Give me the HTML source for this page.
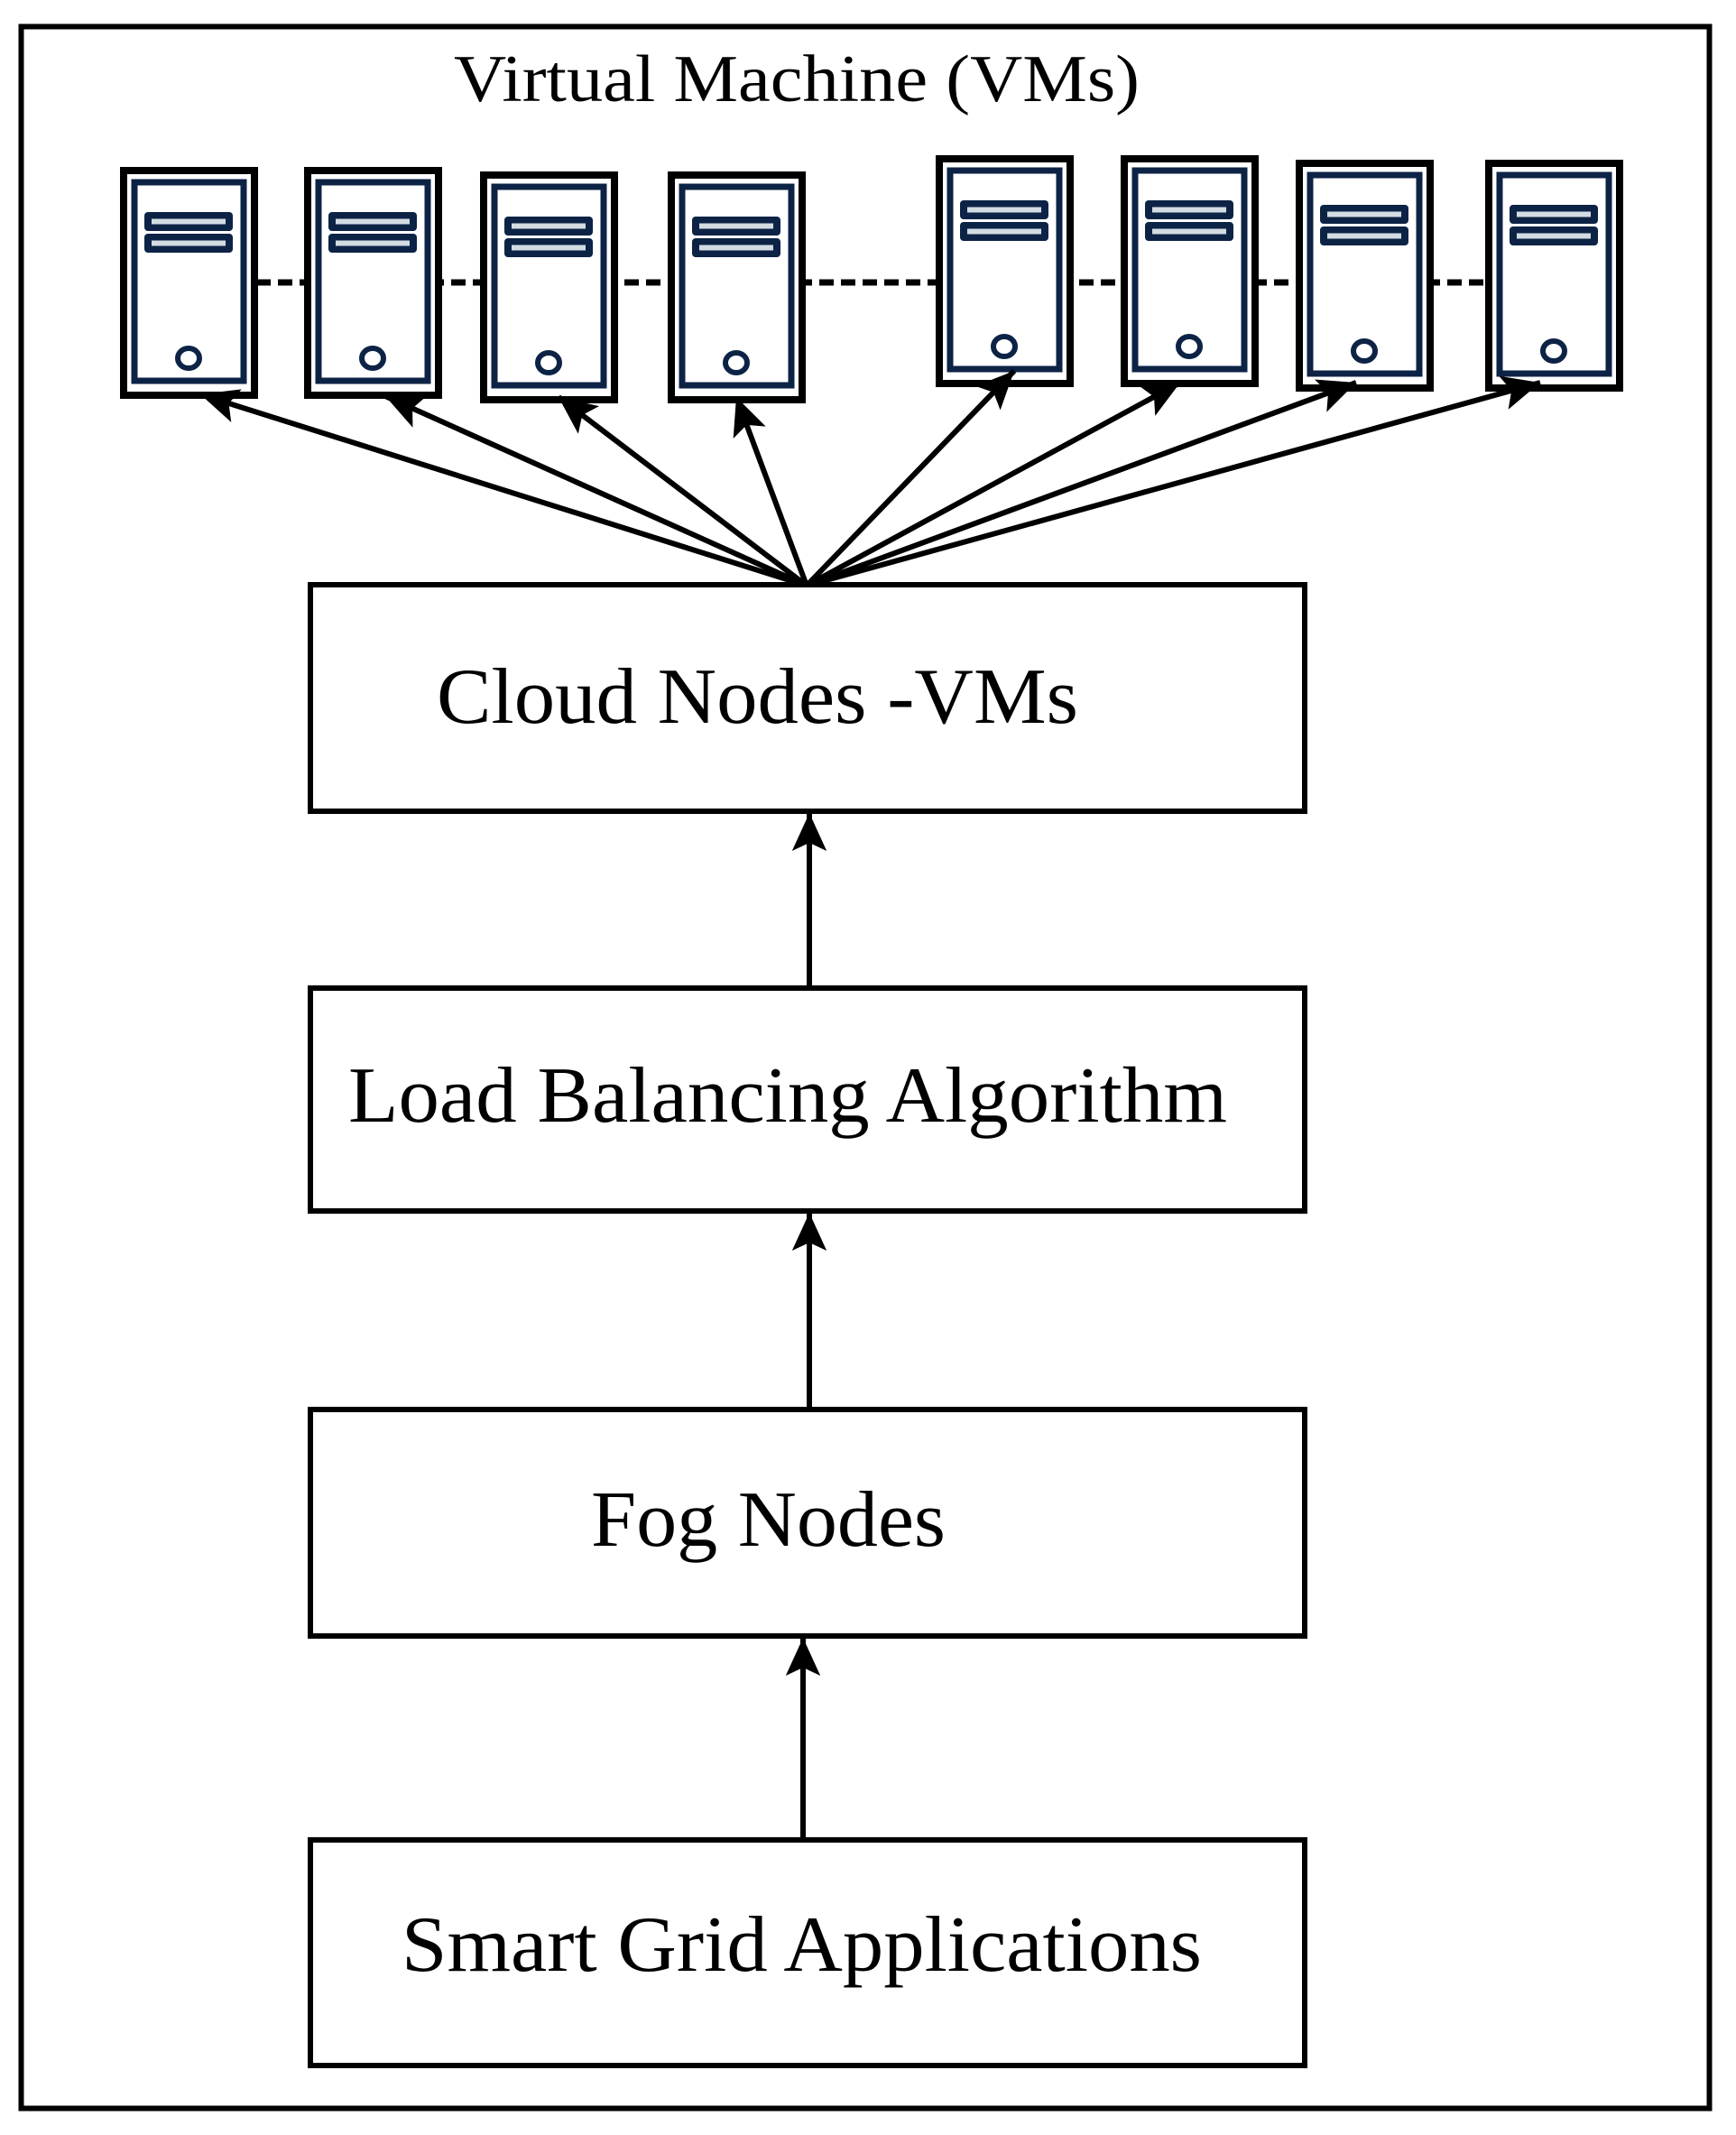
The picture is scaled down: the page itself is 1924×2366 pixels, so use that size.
<!DOCTYPE html>
<html><head><meta charset="utf-8"><style>
html,body{margin:0;padding:0;background:#fff}
svg{display:block}
text{font-family:"Liberation Serif",serif;fill:#000}
</style></head><body>
<svg width="1924" height="2366" viewBox="0 0 1924 2366" xmlns="http://www.w3.org/2000/svg">
<defs>
<marker id="ah" markerWidth="8" markerHeight="8" refX="7" refY="4" orient="auto" markerUnits="strokeWidth">
<path d="M0,0.8 L7,4 L0,7.2 L1.5,4 Z" fill="#000"/>
</marker>
<g id="srv">
<rect x="4" y="4" width="145" height="249" fill="#fff" stroke="#000" stroke-width="8"/>
<rect x="16" y="17" width="121" height="220" fill="#fff" stroke="#0d2346" stroke-width="7"/>
<rect x="27" y="50" width="98" height="21" rx="4" fill="#0d2346"/>
<rect x="35" y="57.5" width="82" height="6" fill="#d3dce2"/>
<rect x="27" y="74" width="98" height="21" rx="4" fill="#0d2346"/>
<rect x="35" y="81.5" width="82" height="6" fill="#d3dce2"/>
<ellipse cx="76" cy="212" rx="12" ry="11" fill="none" stroke="#0d2346" stroke-width="6"/>
</g>
</defs>
<rect x="23.5" y="29.5" width="1871" height="2307" fill="none" stroke="#000" stroke-width="6"/>
<text x="503" y="112" font-size="74" textLength="760" lengthAdjust="spacingAndGlyphs">Virtual Machine (VMs)</text>
<line x1="284" y1="313" x2="1646" y2="313" stroke="#000" stroke-width="7" stroke-dasharray="16,8"/>
<use href="#srv" x="133" y="185"/>
<use href="#srv" x="337" y="185"/>
<use href="#srv" x="532" y="190"/>
<use href="#srv" x="740" y="190"/>
<use href="#srv" x="1037" y="172"/>
<use href="#srv" x="1242" y="172"/>
<use href="#srv" x="1436" y="177"/>
<use href="#srv" x="1646" y="177"/>
<g stroke="#000" stroke-width="6" fill="none" marker-end="url(#ah)">
<line x1="894" y1="649" x2="222" y2="437"/>
<line x1="894" y1="649" x2="427" y2="439"/>
<line x1="894" y1="649" x2="619" y2="440"/>
<line x1="894" y1="649" x2="816" y2="440"/>
<line x1="894" y1="649" x2="1124" y2="411"/>
<line x1="894" y1="649" x2="1308" y2="424"/>
<line x1="894" y1="649" x2="1503" y2="424"/>
<line x1="894" y1="649" x2="1707" y2="424"/>
<line x1="897" y1="1093" x2="897" y2="901"/>
<line x1="897" y1="1560" x2="897" y2="1344"/>
<line x1="890" y1="2037" x2="890" y2="1815"/>
</g>
<g fill="#fff" stroke="#000" stroke-width="6">
<rect x="344" y="648" width="1102" height="251"/>
<rect x="344" y="1095" width="1102" height="247"/>
<rect x="344" y="1562" width="1102" height="251"/>
<rect x="344" y="2039" width="1102" height="250"/>
</g>
<text x="484" y="801" font-size="88" textLength="711" lengthAdjust="spacingAndGlyphs">Cloud Nodes -VMs</text>
<text x="386" y="1243" font-size="88" textLength="974" lengthAdjust="spacingAndGlyphs">Load Balancing Algorithm</text>
<text x="655" y="1713" font-size="88" textLength="393" lengthAdjust="spacingAndGlyphs">Fog Nodes</text>
<text x="445" y="2184" font-size="88" textLength="887" lengthAdjust="spacingAndGlyphs">Smart Grid Applications</text>
</svg>
</body></html>
